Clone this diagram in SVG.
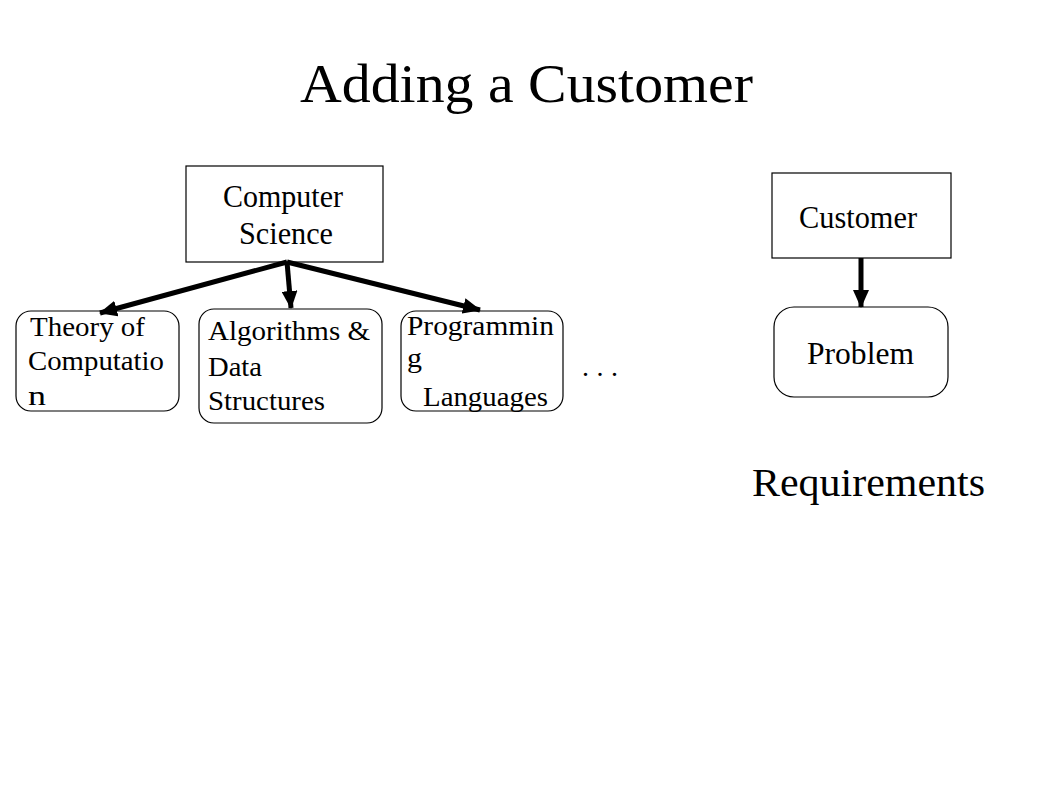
<svg xmlns="http://www.w3.org/2000/svg" width="1058" height="793" viewBox="0 0 1058 793">
<style>
text{font-family:"Liberation Serif","Times New Roman",serif;fill:#000}
.box{fill:#fff;stroke:#000;stroke-width:1.2}
.lbl{font-size:31px}
.sm{font-size:27px}
.conn{stroke:#000;stroke-width:5;fill:none}
</style>
<defs>
<marker id="ah" markerUnits="userSpaceOnUse" markerWidth="18" markerHeight="16" refX="17" refY="8" orient="auto">
<path d="M0,0 L18,8 L0,16 Z" fill="#000"/>
</marker>
</defs>
<rect width="1058" height="793" fill="#fff"/>
<text x="300" y="102" font-size="54" textLength="453" lengthAdjust="spacingAndGlyphs">Adding a Customer</text>
<g id="cs">
<rect class="box" x="186" y="166" width="197" height="96"/>
<text class="lbl" x="223" y="207" textLength="120" lengthAdjust="spacingAndGlyphs">Computer</text>
<text class="lbl" x="239" y="244" textLength="94" lengthAdjust="spacingAndGlyphs">Science</text>
</g>
<g id="theory">
<rect class="box" x="16" y="311" width="163" height="100" rx="15"/>
<text class="sm" x="30" y="336" textLength="115" lengthAdjust="spacingAndGlyphs">Theory of</text>
<text class="sm" x="28" y="370" textLength="136" lengthAdjust="spacingAndGlyphs">Computatio</text>
<text class="sm" x="28" y="405" textLength="18" lengthAdjust="spacingAndGlyphs">n</text>
</g>
<g id="algo">
<rect class="box" x="199" y="309" width="183" height="114" rx="15"/>
<text class="sm" x="208" y="340" textLength="162" lengthAdjust="spacingAndGlyphs">Algorithms &amp;</text>
<text class="sm" x="208" y="376" textLength="54" lengthAdjust="spacingAndGlyphs">Data</text>
<text class="sm" x="208" y="410" textLength="117" lengthAdjust="spacingAndGlyphs">Structures</text>
</g>
<g id="prog">
<rect class="box" x="401" y="311" width="162" height="100" rx="15"/>
<text class="sm" x="407" y="335" textLength="147" lengthAdjust="spacingAndGlyphs">Programmin</text>
<text class="sm" x="407" y="367" textLength="15" lengthAdjust="spacingAndGlyphs">g</text>
<text class="sm" x="423" y="406" textLength="125" lengthAdjust="spacingAndGlyphs">Languages</text>
</g>
<text id="dots" x="582" y="376" font-size="28" textLength="36" lengthAdjust="spacing">. . .</text>
<g id="customer">
<rect class="box" x="772" y="173" width="179" height="85"/>
<text class="lbl" x="799" y="228" textLength="118" lengthAdjust="spacingAndGlyphs">Customer</text>
</g>
<g id="problem">
<rect class="box" x="774" y="307" width="174" height="90" rx="20"/>
<text class="lbl" x="807" y="364" textLength="107" lengthAdjust="spacingAndGlyphs">Problem</text>
</g>
<text id="req" x="752" y="496" font-size="41" textLength="233" lengthAdjust="spacingAndGlyphs">Requirements</text>
<g id="connectors">
<line class="conn" x1="287" y1="262" x2="100" y2="313" marker-end="url(#ah)"/>
<line class="conn" x1="287" y1="262" x2="291" y2="308" marker-end="url(#ah)"/>
<line class="conn" x1="287" y1="262" x2="480" y2="310" marker-end="url(#ah)"/>
<line class="conn" x1="861" y1="258" x2="861" y2="307" marker-end="url(#ah)"/>
</g>
</svg>
